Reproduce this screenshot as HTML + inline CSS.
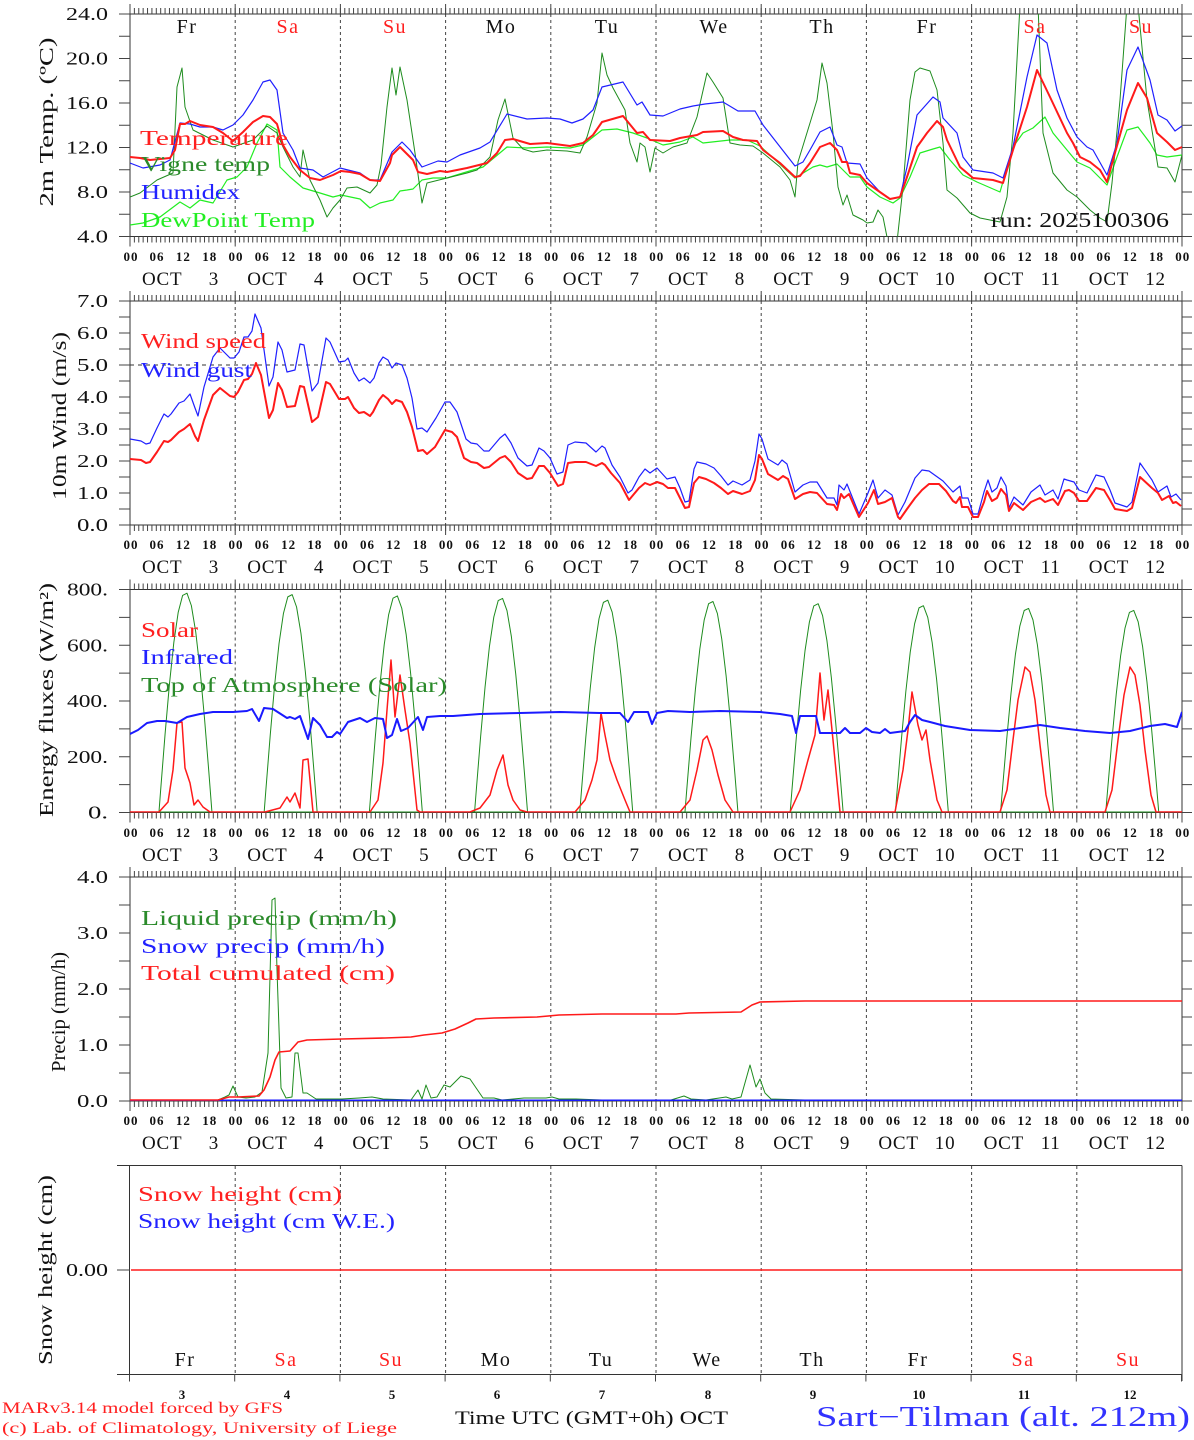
<!DOCTYPE html>
<html><head><meta charset="utf-8"><style>
html,body{margin:0;padding:0;background:#fff;}
svg{display:block;}
text{font-family:"Liberation Serif",serif;}
</style></head><body>
<svg width="1194" height="1440" viewBox="0 0 1194 1440" xmlns="http://www.w3.org/2000/svg">
<defs>
<clipPath id="c1"><rect x="130" y="14" width="1052" height="222.5"/></clipPath>
<clipPath id="c2"><rect x="130" y="301" width="1052" height="224"/></clipPath>
<clipPath id="c3"><rect x="130" y="589.5" width="1052" height="223"/></clipPath>
<clipPath id="c4"><rect x="130" y="877" width="1052" height="224"/></clipPath>
<path id="bell" d="M28.93,0 L30.68,-23.1 L35.07,-79.3 L39.45,-130.1 L43.83,-172.2 L48.22,-202.8 L52.6,-219.8 L56.98,-222.1 L61.37,-209.5 L65.75,-182.7 L70.13,-143.7 L74.52,-95.2 L78.9,-40.3 L81.97,0" fill="none" stroke="#1e8c1e" stroke-width="1" vector-effect="non-scaling-stroke"/>
</defs>

<g stroke="#444" stroke-width="1" stroke-dasharray="3 3" fill="none">
<path d="M235.2,14V236.5M340.4,14V236.5M445.6,14V236.5M550.8,14V236.5M656,14V236.5M761.2,14V236.5M866.4,14V236.5M971.6,14V236.5M1076.8,14V236.5"/>
<path d="M235.2,301V525M340.4,301V525M445.6,301V525M550.8,301V525M656,301V525M761.2,301V525M866.4,301V525M971.6,301V525M1076.8,301V525"/>
<path d="M235.2,589.5V812.5M340.4,589.5V812.5M445.6,589.5V812.5M550.8,589.5V812.5M656,589.5V812.5M761.2,589.5V812.5M866.4,589.5V812.5M971.6,589.5V812.5M1076.8,589.5V812.5"/>
<path d="M235.2,877V1101M340.4,877V1101M445.6,877V1101M550.8,877V1101M656,877V1101M761.2,877V1101M866.4,877V1101M971.6,877V1101M1076.8,877V1101"/>
<path d="M235.2,1166V1374M340.4,1166V1374M445.6,1166V1374M550.8,1166V1374M656,1166V1374M761.2,1166V1374M866.4,1166V1374M971.6,1166V1374M1076.8,1166V1374"/>
</g>
<line x1="130" y1="365" x2="1182" y2="365" stroke="#333" stroke-width="1" stroke-dasharray="4 4"/>

<g stroke="#333" stroke-width="1" fill="none">
<rect x="130" y="14" width="1052" height="222.5"/>
<rect x="130" y="301" width="1052" height="224"/>
<rect x="130" y="589.5" width="1052" height="223"/>
<rect x="130" y="877" width="1052" height="224"/>
<path d="M117,1165.5H1182M129.5,1165.5V1374.5M117,1374.5H1182M1182,1165.5V1381"/>
</g>

<g stroke="#444" fill="none" stroke-dasharray="1 3.38333">
<line x1="129.5" y1="11" x2="1183" y2="11" stroke-width="6"/>
<line x1="129.5" y1="239.5" x2="1183" y2="239.5" stroke-width="6"/>
<line x1="129.5" y1="298" x2="1183" y2="298" stroke-width="6"/>
<line x1="129.5" y1="528" x2="1183" y2="528" stroke-width="6"/>
<line x1="129.5" y1="586.5" x2="1183" y2="586.5" stroke-width="6"/>
<line x1="129.5" y1="815.5" x2="1183" y2="815.5" stroke-width="6"/>
<line x1="129.5" y1="874" x2="1183" y2="874" stroke-width="6"/>
<line x1="129.5" y1="1104" x2="1183" y2="1104" stroke-width="6"/>
</g>
<g stroke="#444" fill="none" stroke-dasharray="1 104.2">
<line x1="129.5" y1="9" x2="1183" y2="9" stroke-width="10"/>
<line x1="129.5" y1="241.5" x2="1183" y2="241.5" stroke-width="10"/>
<line x1="129.5" y1="296" x2="1183" y2="296" stroke-width="10"/>
<line x1="129.5" y1="530" x2="1183" y2="530" stroke-width="10"/>
<line x1="129.5" y1="584.5" x2="1183" y2="584.5" stroke-width="10"/>
<line x1="129.5" y1="817.5" x2="1183" y2="817.5" stroke-width="10"/>
<line x1="129.5" y1="872" x2="1183" y2="872" stroke-width="10"/>
<line x1="129.5" y1="1106" x2="1183" y2="1106" stroke-width="10"/>
<line x1="129" y1="1378" x2="1183" y2="1378" stroke-width="7"/>
</g>
<g stroke="#444" fill="none">
<line x1="124.5" y1="13.5" x2="124.5" y2="237.5" stroke-width="11" stroke-dasharray="1 21.25"/>
<line x1="1187" y1="13.5" x2="1187" y2="237.5" stroke-width="10" stroke-dasharray="1 21.25"/>
<line x1="124.5" y1="300.5" x2="124.5" y2="526" stroke-width="11" stroke-dasharray="1 15"/>
<line x1="1187" y1="300.5" x2="1187" y2="526" stroke-width="10" stroke-dasharray="1 15"/>
<line x1="124.5" y1="589" x2="124.5" y2="813.5" stroke-width="11" stroke-dasharray="1 26.875"/>
<line x1="1187" y1="589" x2="1187" y2="813.5" stroke-width="10" stroke-dasharray="1 26.875"/>
<line x1="124.5" y1="876.5" x2="124.5" y2="1102" stroke-width="11" stroke-dasharray="1 27"/>
<line x1="1187" y1="876.5" x2="1187" y2="1102" stroke-width="10" stroke-dasharray="1 27"/>
<line x1="117" y1="1270" x2="130" y2="1270" stroke-width="1"/>
</g>

<g clip-path="url(#c1)" fill="none" stroke-linejoin="round">
<polyline stroke="#22ee22" stroke-width="1.2" points="130,225 143,223 160,217 180,202 190,208 200,200 213,203 227,180 237,177 247,167 257,143 267,124 277,130 280,167 290,177 303,188 320,193 333,197 341,195 360,199 370,208 380,203 393,200 400,191 407,190 413,189 422,180 433,178 447,178 463,173 483,167 507,147 527,148 547,147 570,148 583,145 602,130 617,129 633,133 647,138 663,145 680,142 693,137 703,143 730,140 747,140 760,146 795,178 813,167 820,165 827,167 837,164 850,177 860,177 867,187 880,197 893,203 900,198 910,177 920,153 933,149 940,147 950,160 963,175 977,182 1000,192 1013,147 1023,133 1033,128 1045,117 1053,133 1067,150 1077,162 1090,168 1107,185 1117,157 1127,130 1138,127 1150,143 1157,155 1167,157 1182,155"/>
<polyline stroke="#1e8c1e" stroke-width="1" points="130,197 140,193 157,180 173,173 177,87 182,68 185,107 193,130 203,135 213,140 233,147 253,140 267,126 277,133 283,147 293,167 300,177 303,150 310,180 320,200 327,217 333,208 340,200 347,188 357,187 370,193 377,185 381,165 387,107 392,68 396,95 400,67 407,100 415,153 422,203 427,183 447,178 467,173 477,170 490,157 498,120 505,99 513,138 523,149 533,152 547,150 567,151 580,153 587,137 597,103 602,53 607,75 613,88 625,110 630,143 637,162 640,143 645,147 650,172 655,148 663,153 673,147 687,143 697,117 707,73 713,82 723,98 730,143 740,145 753,146 763,153 780,167 790,180 795,197 798,162 810,123 817,100 822,63 827,83 833,133 838,187 843,205 847,195 853,215 863,220 867,223 873,222 878,210 883,217 888,242 897,242 903,187 910,100 915,72 920,68 930,71 937,90 943,143 947,190 957,198 970,213 980,218 1000,222 1007,197 1013,133 1020,5 1038,5 1043,133 1053,173 1067,190 1077,197 1090,210 1100,218 1107,222 1112,183 1120,100 1127,5 1138,5 1147,100 1158,167 1167,168 1175,182 1182,155"/>
<polyline stroke="#2020ff" stroke-width="1.2" points="130,163 143,168 160,165 170,160 180,123 190,124 200,127 213,127 223,130 233,125 243,115 253,100 263,82 270,80 277,90 283,133 293,150 300,168 313,170 323,177 340,168 360,173 370,180 380,180 392,152 402,142 410,150 422,167 438,161 447,162 460,155 480,148 490,142 507,114 527,119 547,118 560,119 572,123 583,119 593,110 602,87 623,82 637,105 642,102 650,115 663,116 680,109 693,106 705,104 723,102 738,111 755,111 763,125 795,166 803,162 810,150 820,132 830,127 837,145 842,147 847,163 860,164 867,178 880,192 890,199 900,197 907,167 917,115 933,97 940,102 943,118 957,133 963,157 973,170 993,173 1003,178 1013,147 1027,77 1037,35 1047,43 1057,90 1067,118 1077,137 1087,147 1093,150 1107,175 1117,143 1127,70 1138,47 1150,80 1158,115 1167,120 1175,131 1182,126"/>
<polyline stroke="#ff1a1a" stroke-width="2" points="130,157 140,158 150,160 160,159 170,158 175,150 180,124 185,124 190,121 200,125 213,127 223,133 233,141 243,132 253,122 263,116 270,117 277,124 283,145 290,157 300,170 310,178 320,180 333,175 341,171 350,172 360,174 370,180 380,181 390,163 392,155 400,147 413,160 418,172 427,174 440,171 447,172 467,168 487,163 497,153 505,140 513,139 530,144 547,143 570,146 583,143 593,135 602,122 623,116 637,133 643,132 650,140 670,141 680,138 697,135 703,132 723,131 733,137 743,140 757,141 763,150 780,163 795,177 800,176 810,163 820,147 830,143 837,150 842,162 847,162 850,173 860,175 867,183 877,190 890,199 900,197 907,177 917,147 927,133 937,121 943,127 947,140 960,167 973,178 993,180 1003,183 1013,150 1027,107 1037,70 1050,97 1067,133 1073,143 1080,157 1090,162 1100,170 1107,182 1113,160 1127,110 1138,83 1147,98 1157,133 1167,142 1175,150 1182,147"/>
</g>

<g clip-path="url(#c2)" fill="none" stroke-linejoin="round">
<polyline stroke="#2020ff" stroke-width="1.2" points="130,439 141,441 146,444 150,443 157,428 164,414 168,417 171,414 179,403 184,401 190,394 195,408 198,416 204,387 213,357 220,348 225,353 230,358 234,358 239,352 244,337 248,337 252,331 255,314 261,328 269,386 273,377 278,342 282,350 287,372 295,370 300,344 304,345 312,391 318,383 326,338 330,342 339,362 345,361 348,358 354,373 359,381 364,378 370,383 374,378 379,363 383,357 388,360 392,368 396,363 402,365 407,378 412,398 417,429 422,428 427,432 436,418 445,402 450,402 457,412 466,439 471,443 477,444 484,451 489,451 500,438 505,434 511,443 518,458 527,466 532,465 539,448 544,451 550,458 557,474 563,472 568,445 575,442 586,443 596,452 602,446 605,448 612,465 620,477 628,493 632,490 639,477 645,469 650,473 657,468 667,479 675,477 680,488 685,502 689,501 694,469 697,462 706,464 714,468 721,476 728,485 733,481 742,485 750,480 755,461 759,434 762,439 768,459 778,465 782,460 787,464 795,492 803,485 810,482 817,482 827,498 834,498 837,505 839,485 844,490 847,484 859,514 868,493 873,480 878,498 885,490 892,495 898,515 905,502 915,478 922,470 929,471 943,481 953,492 960,486 962,498 968,498 973,514 978,514 984,492 988,480 992,492 997,488 1001,477 1006,486 1009,508 1014,497 1023,505 1031,492 1040,485 1045,495 1053,490 1058,499 1064,479 1067,480 1074,482 1079,490 1087,493 1096,475 1104,477 1110,490 1115,503 1127,507 1132,502 1140,463 1152,480 1158,492 1167,486 1171,497 1176,494 1181,500"/>
<polyline stroke="#ff1a1a" stroke-width="2" points="130,459 141,460 146,463 150,462 157,452 164,441 168,442 171,440 179,432 184,429 190,424 195,436 198,441 204,420 213,395 220,388 225,392 230,396 234,397 238,392 244,380 248,379 252,374 256,363 261,375 269,418 273,410 278,383 282,390 287,407 295,406 300,386 304,387 312,422 318,417 326,382 330,384 339,399 345,399 348,397 354,408 359,413 364,412 370,416 373,412 379,400 383,395 388,399 392,404 396,400 402,402 407,412 412,427 418,451 423,450 427,454 435,447 445,430 452,432 457,437 464,458 471,462 477,463 484,468 489,467 500,458 505,456 511,462 518,473 527,479 532,478 539,466 544,466 550,473 558,486 563,484 568,463 575,462 586,462 596,466 602,463 605,465 611,473 620,483 629,500 639,488 645,483 650,485 657,482 663,484 668,488 675,488 680,498 685,508 689,507 694,483 699,477 706,479 714,483 721,488 728,494 733,491 742,494 750,491 755,480 759,455 762,459 768,474 778,480 783,476 788,479 795,499 803,494 810,492 817,493 827,504 834,505 837,510 841,494 844,498 849,494 859,517 868,503 874,490 878,504 885,502 892,498 898,517 900,519 907,509 915,498 922,490 929,484 939,484 946,491 953,501 956,503 960,497 962,507 968,507 973,517 978,517 984,502 987,491 992,501 997,498 1001,489 1006,495 1009,511 1014,503 1023,510 1031,502 1040,498 1045,502 1053,499 1058,505 1065,491 1069,490 1074,493 1079,501 1087,501 1096,488 1104,490 1110,500 1115,509 1127,511 1132,508 1140,477 1152,488 1158,493 1162,500 1169,496 1173,503 1176,502 1181,506"/>
</g>

<g clip-path="url(#c3)" fill="none" stroke-linejoin="round">
<line x1="130" y1="812" x2="1182" y2="812" stroke="#1e8c1e" stroke-width="1"/>
<use href="#bell" transform="translate(130,812.5) scale(1,0.9875)"/>
<use href="#bell" transform="translate(235.2,812.5) scale(1,0.981)"/>
<use href="#bell" transform="translate(340.4,812.5) scale(1,0.975)"/>
<use href="#bell" transform="translate(445.6,812.5) scale(1,0.964)"/>
<use href="#bell" transform="translate(550.8,812.5) scale(1,0.956)"/>
<use href="#bell" transform="translate(656,812.5) scale(1,0.95)"/>
<use href="#bell" transform="translate(761.2,812.5) scale(1,0.94)"/>
<use href="#bell" transform="translate(866.4,812.5) scale(1,0.931)"/>
<use href="#bell" transform="translate(971.6,812.5) scale(1,0.919)"/>
<use href="#bell" transform="translate(1076.8,812.5) scale(1,0.91)"/>
<polyline stroke="#ff1a1a" stroke-width="1.5" points="130,812 159,812 168,802 173,770 177,723 182,722 185,768 190,783 194,805 198,800 203,807 210,812 265,812 280,808 287,797 290,802 295,793 300,808 303,760 308,759 313,812 370,812 378,800 383,763 387,710 391,660 395,717 400,675 405,710 410,743 417,810 420,812 470,812 480,808 490,795 497,770 503,755 508,785 513,800 520,810 527,812 575,812 585,800 592,780 597,760 601,713 605,735 610,760 617,780 625,800 630,812 680,812 690,800 697,770 703,740 707,736 712,750 718,775 725,800 733,812 790,812 800,790 808,760 815,735 820,673 824,720 828,690 833,740 840,812 895,812 903,770 908,730 912,692 918,725 922,740 926,730 930,760 937,800 942,812 1000,812 1007,790 1013,740 1018,700 1025,667 1030,672 1035,700 1040,745 1046,795 1050,812 1105,812 1112,790 1118,740 1124,695 1130,667 1135,675 1140,705 1145,750 1151,795 1156,812 1182,812"/>
<polyline stroke="#1a1aff" stroke-width="2" points="130,734 138,730 147,723 157,721 165,721 177,723 187,717 200,714 213,712 233,712 247,711 252,709 259,721 264,708 273,709 287,718 290,717 295,719 300,716 308,739 313,718 320,725 327,737 332,737 337,732 340,734 348,722 360,718 367,722 375,718 383,719 387,738 392,735 397,719 401,731 408,728 418,717 423,730 427,717 440,716 453,716 480,714 520,713 560,712 600,713 620,713 628,722 634,712 648,712 652,724 657,713 668,711 690,712 720,711 760,712 780,714 792,716 796,733 800,716 816,716 820,733 840,733 845,728 850,733 860,733 866,728 872,732 880,733 885,729 890,733 905,731 910,722 915,715 922,720 930,722 945,726 970,730 1000,731 1020,728 1040,725 1060,728 1085,731 1110,733 1130,731 1150,726 1165,724 1177,727 1182,712"/>
</g>

<g clip-path="url(#c4)" fill="none" stroke-linejoin="round">
<polyline stroke="#1e8c1e" stroke-width="1" points="130,1100 218,1100 225,1097 229,1095 233,1086 238,1097 246,1098 255,1097 262,1092 268,1053 272,900 275,898 277,970 281,1088 286,1098 292,1097 295,1053 298,1053 303,1093 307,1093 316,1099 342,1099 359,1098 372,1097 383,1099 411,1100 418,1090 422,1099 426,1085 431,1098 437,1097 444,1085 450,1087 461,1076 470,1079 483,1098 494,1098 502,1100 524,1098 546,1098 552,1097 559,1099 576,1099 602,1100 671,1100 684,1096 691,1099 706,1100 726,1097 732,1099 741,1097 750,1065 756,1087 760,1079 765,1093 771,1099 805,1100 1182,1100"/>
<line x1="130" y1="1100.5" x2="1182" y2="1100.5" stroke="#1a1aff" stroke-width="2"/>
<polyline stroke="#ff1a1a" stroke-width="1.6" points="130,1100 218,1100 229,1097 238,1097 259,1096 264,1090 270,1077 275,1060 279,1052 290,1051 298,1042 307,1040 342,1039 385,1038 411,1037 424,1035 442,1033 455,1029 468,1023 476,1019 494,1018 537,1017 559,1015 602,1014 676,1014 689,1013 741,1012 752,1005 760,1002 805,1001 1182,1001"/>
</g>

<line x1="131" y1="1270" x2="1182" y2="1270" stroke="#ff1a1a" stroke-width="1.6"/>

<g font-size="20" letter-spacing="1.5" text-anchor="middle">
<text x="187" y="33" fill="#111">Fr</text>
<text x="288" y="33" fill="#ff2020">Sa</text>
<text x="395" y="33" fill="#ff2020">Su</text>
<text x="501" y="33" fill="#111">Mo</text>
<text x="607" y="33" fill="#111">Tu</text>
<text x="714" y="33" fill="#111">We</text>
<text x="822" y="33" fill="#111">Th</text>
<text x="927" y="33" fill="#111">Fr</text>
<text x="1035" y="33" fill="#ff2020">Sa</text>
<text x="1141" y="33" fill="#ff2020">Su</text>
</g>

<g font-size="18" text-anchor="end" fill="#111">
<text x="108" y="20" textLength="42" lengthAdjust="spacingAndGlyphs">24.0</text>
<text x="108" y="64.5" textLength="42" lengthAdjust="spacingAndGlyphs">20.0</text>
<text x="108" y="109" textLength="42" lengthAdjust="spacingAndGlyphs">16.0</text>
<text x="108" y="153.5" textLength="42" lengthAdjust="spacingAndGlyphs">12.0</text>
<text x="108" y="198" textLength="31" lengthAdjust="spacingAndGlyphs">8.0</text>
<text x="108" y="242.5" textLength="31" lengthAdjust="spacingAndGlyphs">4.0</text>
<text x="108" y="307" textLength="31" lengthAdjust="spacingAndGlyphs">7.0</text>
<text x="108" y="339" textLength="31" lengthAdjust="spacingAndGlyphs">6.0</text>
<text x="108" y="371" textLength="31" lengthAdjust="spacingAndGlyphs">5.0</text>
<text x="108" y="403" textLength="31" lengthAdjust="spacingAndGlyphs">4.0</text>
<text x="108" y="435" textLength="31" lengthAdjust="spacingAndGlyphs">3.0</text>
<text x="108" y="467" textLength="31" lengthAdjust="spacingAndGlyphs">2.0</text>
<text x="108" y="499" textLength="31" lengthAdjust="spacingAndGlyphs">1.0</text>
<text x="108" y="531" textLength="31" lengthAdjust="spacingAndGlyphs">0.0</text>
<text x="108" y="595.5" textLength="41" lengthAdjust="spacingAndGlyphs">800.</text>
<text x="108" y="651.5" textLength="41" lengthAdjust="spacingAndGlyphs">600.</text>
<text x="108" y="707" textLength="41" lengthAdjust="spacingAndGlyphs">400.</text>
<text x="108" y="763" textLength="41" lengthAdjust="spacingAndGlyphs">200.</text>
<text x="108" y="818.5" textLength="20" lengthAdjust="spacingAndGlyphs">0.</text>
<text x="108" y="883" textLength="31" lengthAdjust="spacingAndGlyphs">4.0</text>
<text x="108" y="939" textLength="31" lengthAdjust="spacingAndGlyphs">3.0</text>
<text x="108" y="995" textLength="31" lengthAdjust="spacingAndGlyphs">2.0</text>
<text x="108" y="1051" textLength="31" lengthAdjust="spacingAndGlyphs">1.0</text>
<text x="108" y="1107" textLength="31" lengthAdjust="spacingAndGlyphs">0.0</text>
<text x="108" y="1276" textLength="42" lengthAdjust="spacingAndGlyphs">0.00</text>
</g>

<g font-size="20" fill="#111" text-anchor="middle">
<text transform="translate(53,122) rotate(-90)" textLength="169" lengthAdjust="spacingAndGlyphs">2m Temp. (ºC)</text>
<text transform="translate(66,416) rotate(-90)" textLength="168" lengthAdjust="spacingAndGlyphs">10m Wind (m/s)</text>
<text transform="translate(53,700) rotate(-90)" textLength="234" lengthAdjust="spacingAndGlyphs">Energy fluxes (W/m²)</text>
<text transform="translate(65,1012) rotate(-90)" textLength="120" lengthAdjust="spacingAndGlyphs">Precip (mm/h)</text>
<text transform="translate(52,1270) rotate(-90)" textLength="190" lengthAdjust="spacingAndGlyphs">Snow height (cm)</text>
</g>

<g font-size="13" font-weight="bold" letter-spacing="1" text-anchor="middle" fill="#111">
<text y="261"><tspan x="131">00</tspan><tspan x="157">06</tspan><tspan x="183.4">12</tspan><tspan x="209.7">18</tspan><tspan x="236">00</tspan><tspan x="262.3">06</tspan><tspan x="288.6">12</tspan><tspan x="314.9">18</tspan><tspan x="341.2">00</tspan><tspan x="367.5">06</tspan><tspan x="393.8">12</tspan><tspan x="420.1">18</tspan><tspan x="446.4">00</tspan><tspan x="472.7">06</tspan><tspan x="499">12</tspan><tspan x="525.3">18</tspan><tspan x="551.6">00</tspan><tspan x="577.9">06</tspan><tspan x="604.2">12</tspan><tspan x="630.5">18</tspan><tspan x="656.8">00</tspan><tspan x="683.1">06</tspan><tspan x="709.4">12</tspan><tspan x="735.7">18</tspan><tspan x="762">00</tspan><tspan x="788.3">06</tspan><tspan x="814.6">12</tspan><tspan x="840.9">18</tspan><tspan x="867.2">00</tspan><tspan x="893.5">06</tspan><tspan x="919.8">12</tspan><tspan x="946.1">18</tspan><tspan x="972.4">00</tspan><tspan x="998.7">06</tspan><tspan x="1025">12</tspan><tspan x="1051.3">18</tspan><tspan x="1077.6">00</tspan><tspan x="1103.9">06</tspan><tspan x="1130.2">12</tspan><tspan x="1156.5">18</tspan><tspan x="1182.8">00</tspan></text>
<text y="549"><tspan x="131">00</tspan><tspan x="157">06</tspan><tspan x="183.4">12</tspan><tspan x="209.7">18</tspan><tspan x="236">00</tspan><tspan x="262.3">06</tspan><tspan x="288.6">12</tspan><tspan x="314.9">18</tspan><tspan x="341.2">00</tspan><tspan x="367.5">06</tspan><tspan x="393.8">12</tspan><tspan x="420.1">18</tspan><tspan x="446.4">00</tspan><tspan x="472.7">06</tspan><tspan x="499">12</tspan><tspan x="525.3">18</tspan><tspan x="551.6">00</tspan><tspan x="577.9">06</tspan><tspan x="604.2">12</tspan><tspan x="630.5">18</tspan><tspan x="656.8">00</tspan><tspan x="683.1">06</tspan><tspan x="709.4">12</tspan><tspan x="735.7">18</tspan><tspan x="762">00</tspan><tspan x="788.3">06</tspan><tspan x="814.6">12</tspan><tspan x="840.9">18</tspan><tspan x="867.2">00</tspan><tspan x="893.5">06</tspan><tspan x="919.8">12</tspan><tspan x="946.1">18</tspan><tspan x="972.4">00</tspan><tspan x="998.7">06</tspan><tspan x="1025">12</tspan><tspan x="1051.3">18</tspan><tspan x="1077.6">00</tspan><tspan x="1103.9">06</tspan><tspan x="1130.2">12</tspan><tspan x="1156.5">18</tspan><tspan x="1182.8">00</tspan></text>
<text y="837"><tspan x="131">00</tspan><tspan x="157">06</tspan><tspan x="183.4">12</tspan><tspan x="209.7">18</tspan><tspan x="236">00</tspan><tspan x="262.3">06</tspan><tspan x="288.6">12</tspan><tspan x="314.9">18</tspan><tspan x="341.2">00</tspan><tspan x="367.5">06</tspan><tspan x="393.8">12</tspan><tspan x="420.1">18</tspan><tspan x="446.4">00</tspan><tspan x="472.7">06</tspan><tspan x="499">12</tspan><tspan x="525.3">18</tspan><tspan x="551.6">00</tspan><tspan x="577.9">06</tspan><tspan x="604.2">12</tspan><tspan x="630.5">18</tspan><tspan x="656.8">00</tspan><tspan x="683.1">06</tspan><tspan x="709.4">12</tspan><tspan x="735.7">18</tspan><tspan x="762">00</tspan><tspan x="788.3">06</tspan><tspan x="814.6">12</tspan><tspan x="840.9">18</tspan><tspan x="867.2">00</tspan><tspan x="893.5">06</tspan><tspan x="919.8">12</tspan><tspan x="946.1">18</tspan><tspan x="972.4">00</tspan><tspan x="998.7">06</tspan><tspan x="1025">12</tspan><tspan x="1051.3">18</tspan><tspan x="1077.6">00</tspan><tspan x="1103.9">06</tspan><tspan x="1130.2">12</tspan><tspan x="1156.5">18</tspan><tspan x="1182.8">00</tspan></text>
<text y="1125"><tspan x="131">00</tspan><tspan x="157">06</tspan><tspan x="183.4">12</tspan><tspan x="209.7">18</tspan><tspan x="236">00</tspan><tspan x="262.3">06</tspan><tspan x="288.6">12</tspan><tspan x="314.9">18</tspan><tspan x="341.2">00</tspan><tspan x="367.5">06</tspan><tspan x="393.8">12</tspan><tspan x="420.1">18</tspan><tspan x="446.4">00</tspan><tspan x="472.7">06</tspan><tspan x="499">12</tspan><tspan x="525.3">18</tspan><tspan x="551.6">00</tspan><tspan x="577.9">06</tspan><tspan x="604.2">12</tspan><tspan x="630.5">18</tspan><tspan x="656.8">00</tspan><tspan x="683.1">06</tspan><tspan x="709.4">12</tspan><tspan x="735.7">18</tspan><tspan x="762">00</tspan><tspan x="788.3">06</tspan><tspan x="814.6">12</tspan><tspan x="840.9">18</tspan><tspan x="867.2">00</tspan><tspan x="893.5">06</tspan><tspan x="919.8">12</tspan><tspan x="946.1">18</tspan><tspan x="972.4">00</tspan><tspan x="998.7">06</tspan><tspan x="1025">12</tspan><tspan x="1051.3">18</tspan><tspan x="1077.6">00</tspan><tspan x="1103.9">06</tspan><tspan x="1130.2">12</tspan><tspan x="1156.5">18</tspan><tspan x="1182.8">00</tspan></text>
</g>

<g font-size="19" letter-spacing="0.8" fill="#111">
<text y="285"><tspan x="142">OCT</tspan><tspan x="247.2">OCT</tspan><tspan x="352.4">OCT</tspan><tspan x="457.6">OCT</tspan><tspan x="562.8">OCT</tspan><tspan x="668">OCT</tspan><tspan x="773.2">OCT</tspan><tspan x="878.4">OCT</tspan><tspan x="983.6">OCT</tspan><tspan x="1088.8">OCT</tspan></text>
<text y="573"><tspan x="142">OCT</tspan><tspan x="247.2">OCT</tspan><tspan x="352.4">OCT</tspan><tspan x="457.6">OCT</tspan><tspan x="562.8">OCT</tspan><tspan x="668">OCT</tspan><tspan x="773.2">OCT</tspan><tspan x="878.4">OCT</tspan><tspan x="983.6">OCT</tspan><tspan x="1088.8">OCT</tspan></text>
<text y="861"><tspan x="142">OCT</tspan><tspan x="247.2">OCT</tspan><tspan x="352.4">OCT</tspan><tspan x="457.6">OCT</tspan><tspan x="562.8">OCT</tspan><tspan x="668">OCT</tspan><tspan x="773.2">OCT</tspan><tspan x="878.4">OCT</tspan><tspan x="983.6">OCT</tspan><tspan x="1088.8">OCT</tspan></text>
<text y="1149"><tspan x="142">OCT</tspan><tspan x="247.2">OCT</tspan><tspan x="352.4">OCT</tspan><tspan x="457.6">OCT</tspan><tspan x="562.8">OCT</tspan><tspan x="668">OCT</tspan><tspan x="773.2">OCT</tspan><tspan x="878.4">OCT</tspan><tspan x="983.6">OCT</tspan><tspan x="1088.8">OCT</tspan></text>
</g>
<g font-size="19" letter-spacing="0.8" fill="#111" text-anchor="end">
<text y="285"><tspan x="219">3</tspan><tspan x="324.2">4</tspan><tspan x="429.4">5</tspan><tspan x="534.6">6</tspan><tspan x="639.8">7</tspan><tspan x="745">8</tspan><tspan x="850.2">9</tspan><tspan x="955.4">10</tspan><tspan x="1060.6">11</tspan><tspan x="1165.8">12</tspan></text>
<text y="573"><tspan x="219">3</tspan><tspan x="324.2">4</tspan><tspan x="429.4">5</tspan><tspan x="534.6">6</tspan><tspan x="639.8">7</tspan><tspan x="745">8</tspan><tspan x="850.2">9</tspan><tspan x="955.4">10</tspan><tspan x="1060.6">11</tspan><tspan x="1165.8">12</tspan></text>
<text y="861"><tspan x="219">3</tspan><tspan x="324.2">4</tspan><tspan x="429.4">5</tspan><tspan x="534.6">6</tspan><tspan x="639.8">7</tspan><tspan x="745">8</tspan><tspan x="850.2">9</tspan><tspan x="955.4">10</tspan><tspan x="1060.6">11</tspan><tspan x="1165.8">12</tspan></text>
<text y="1149"><tspan x="219">3</tspan><tspan x="324.2">4</tspan><tspan x="429.4">5</tspan><tspan x="534.6">6</tspan><tspan x="639.8">7</tspan><tspan x="745">8</tspan><tspan x="850.2">9</tspan><tspan x="955.4">10</tspan><tspan x="1060.6">11</tspan><tspan x="1165.8">12</tspan></text>
</g>

<g font-size="21">
<text x="140" y="145" fill="#ff2020" textLength="148" lengthAdjust="spacingAndGlyphs">Temperature</text>
<text x="141" y="171" fill="#2a8a2a" textLength="129" lengthAdjust="spacingAndGlyphs">Vigne temp</text>
<text x="141" y="199" fill="#2222ff" textLength="99" lengthAdjust="spacingAndGlyphs">Humidex</text>
<text x="141" y="227" fill="#22ee22" textLength="174" lengthAdjust="spacingAndGlyphs">DewPoint Temp</text>
<text x="991" y="227" fill="#111" textLength="178" lengthAdjust="spacingAndGlyphs">run: 2025100306</text>
<text x="141" y="348" fill="#ff2020" textLength="125" lengthAdjust="spacingAndGlyphs">Wind speed</text>
<text x="141" y="377" fill="#2222ff" textLength="111" lengthAdjust="spacingAndGlyphs">Wind gust</text>
<text x="141" y="637" fill="#ff2020" textLength="57" lengthAdjust="spacingAndGlyphs">Solar</text>
<text x="141" y="664" fill="#2222ff" textLength="92" lengthAdjust="spacingAndGlyphs">Infrared</text>
<text x="141" y="692" fill="#2a8a2a" textLength="306" lengthAdjust="spacingAndGlyphs">Top of Atmosphere (Solar)</text>
<text x="141" y="925" fill="#2a8a2a" textLength="256" lengthAdjust="spacingAndGlyphs">Liquid precip (mm/h)</text>
<text x="141" y="953" fill="#2222ff" textLength="244" lengthAdjust="spacingAndGlyphs">Snow precip (mm/h)</text>
<text x="141" y="980" fill="#ff2020" textLength="254" lengthAdjust="spacingAndGlyphs">Total cumulated (cm)</text>
<text x="138" y="1201" fill="#ff2020" textLength="204" lengthAdjust="spacingAndGlyphs">Snow height (cm)</text>
<text x="138" y="1228" fill="#2222ff" textLength="257" lengthAdjust="spacingAndGlyphs">Snow height (cm W.E.)</text>
</g>

<g font-size="20" letter-spacing="1.5" text-anchor="middle">
<text x="185" y="1366" fill="#111">Fr</text>
<text x="286" y="1366" fill="#ff2020">Sa</text>
<text x="391" y="1366" fill="#ff2020">Su</text>
<text x="496" y="1366" fill="#111">Mo</text>
<text x="601" y="1366" fill="#111">Tu</text>
<text x="707" y="1366" fill="#111">We</text>
<text x="812" y="1366" fill="#111">Th</text>
<text x="918" y="1366" fill="#111">Fr</text>
<text x="1023" y="1366" fill="#ff2020">Sa</text>
<text x="1128" y="1366" fill="#ff2020">Su</text>
</g>
<g font-size="13" text-anchor="middle" fill="#111" font-weight="bold">
<text x="182" y="1399">3</text>
<text x="287" y="1399">4</text>
<text x="392" y="1399">5</text>
<text x="497" y="1399">6</text>
<text x="602" y="1399">7</text>
<text x="708" y="1399">8</text>
<text x="813" y="1399">9</text>
<text x="919" y="1399">10</text>
<text x="1024" y="1399">11</text>
<text x="1130" y="1399">12</text>
</g>

<text x="455" y="1424" font-size="19" fill="#111" textLength="273" lengthAdjust="spacingAndGlyphs">Time UTC (GMT+0h) OCT</text>
<text x="2" y="1413" font-size="16" fill="#ff2020" textLength="281" lengthAdjust="spacingAndGlyphs">MARv3.14 model forced by GFS</text>
<text x="2" y="1433" font-size="16" fill="#ff2020" textLength="395" lengthAdjust="spacingAndGlyphs">(c) Lab. of Climatology, University of Liege</text>
<text x="816" y="1426" font-size="28" fill="#3333ff" textLength="374" lengthAdjust="spacingAndGlyphs">Sart−Tilman (alt. 212m)</text>
</svg>
</body></html>
